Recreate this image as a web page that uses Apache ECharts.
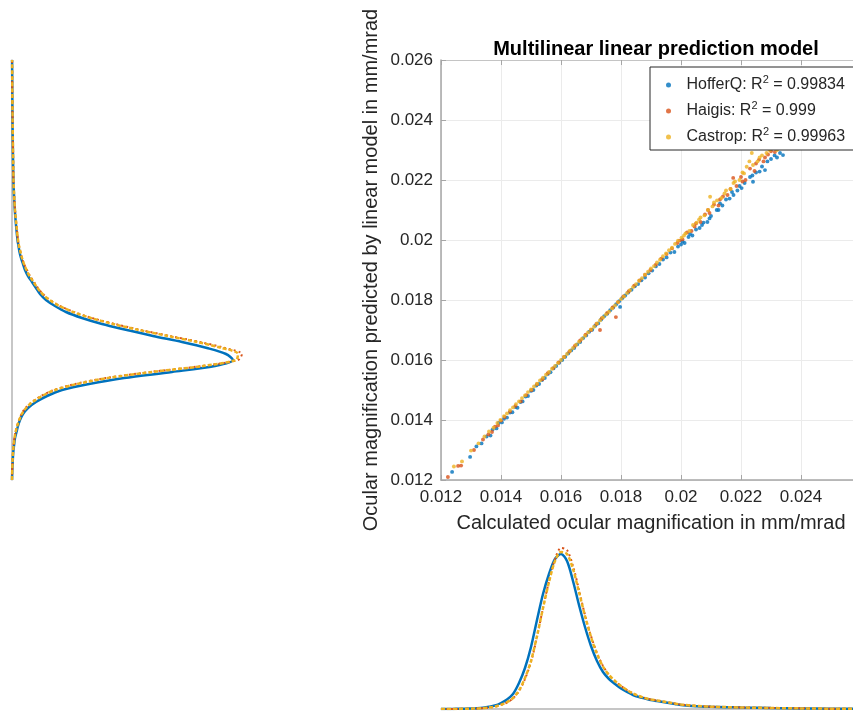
<!DOCTYPE html>
<html>
<head>
<meta charset="utf-8">
<script src="https://cdn.jsdelivr.net/npm/echarts@6.0.0/dist/echarts.min.js"></script>
<style>
  html, body { margin: 0; padding: 0; background: #fff; }
  #chart { width: 853px; height: 711px; }
</style>
</head>
<body>
<div id="chart"></div>
<script>
// model names and fit quality
var models = ['HofferQ', 'Haigis', 'Castrop']
var r2 = ['0.99834', '0.999', '0.99963']
var colors = ['#0072BD', '#D95319', '#EDB120']

// axis ticks (mm/mrad)
var axisMin = 0.012
var axisMax = 0.026
var axisStep = 0.002

// scatter: [calculated, predicted]
var hofferQPts = [
  [0.01237, 0.01227], [0.01297, 0.01277], [0.01318, 0.01312], [0.01335, 0.01322], [0.01352, 0.01345],
  [0.01365, 0.01348], [0.01372, 0.01368], [0.01385, 0.01372], [0.01392, 0.01390], [0.01403, 0.01392],
  [0.01410, 0.01404], [0.01420, 0.01408], [0.01430, 0.01425], [0.01438, 0.01426], [0.01448, 0.01443],
  [0.01455, 0.01441], [0.01465, 0.01460], [0.01472, 0.01462], [0.01482, 0.01478], [0.01490, 0.01480],
  [0.01500, 0.01497], [0.01508, 0.01500], [0.01518, 0.01515], [0.01527, 0.01520], [0.01537, 0.01533],
  [0.01546, 0.01540], [0.01556, 0.01553], [0.01565, 0.01559], [0.01575, 0.01572], [0.01584, 0.01580],
  [0.01594, 0.01591], [0.01604, 0.01600], [0.01614, 0.01611], [0.01624, 0.01622], [0.01634, 0.01632],
  [0.01644, 0.01640], [0.01654, 0.01652], [0.01664, 0.01660], [0.01674, 0.01673], [0.01684, 0.01682],
  [0.01694, 0.01694], [0.01704, 0.01701], [0.01714, 0.01714], [0.01724, 0.01722], [0.01734, 0.01735],
  [0.01744, 0.01746], [0.01754, 0.01754], [0.01764, 0.01766], [0.01774, 0.01775], [0.01784, 0.01786],
  [0.01797, 0.01777], [0.01794, 0.01796], [0.01804, 0.01806], [0.01814, 0.01815], [0.01824, 0.01825],
  [0.01835, 0.01834], [0.01846, 0.01846], [0.01857, 0.01853], [0.01868, 0.01866], [0.01880, 0.01875],
  [0.01892, 0.01889], [0.01904, 0.01898], [0.01916, 0.01912], [0.01928, 0.01920], [0.01940, 0.01935],
  [0.01952, 0.01942], [0.01965, 0.01958], [0.01978, 0.01960], [0.01990, 0.01978], [0.02000, 0.01985],
  [0.02005, 0.01995], [0.02012, 0.01990], [0.02025, 0.02010], [0.02030, 0.02020], [0.02038, 0.02015],
  [0.02050, 0.02035], [0.02062, 0.02040], [0.02070, 0.02050], [0.02075, 0.02058], [0.02088, 0.02060],
  [0.02095, 0.02072], [0.02100, 0.02080], [0.02119, 0.02100], [0.02125, 0.02100], [0.02130, 0.02122],
  [0.02138, 0.02115], [0.02150, 0.02135], [0.02162, 0.02138], [0.02170, 0.02160], [0.02175, 0.02150],
  [0.02188, 0.02165], [0.02195, 0.02180], [0.02202, 0.02173], [0.02212, 0.02190], [0.02230, 0.02210],
  [0.02240, 0.02194], [0.02238, 0.02215], [0.02250, 0.02225], [0.02262, 0.02228], [0.02270, 0.02245],
  [0.02280, 0.02233], [0.02288, 0.02262], [0.02300, 0.02270], [0.02312, 0.02282], [0.02320, 0.02275],
  [0.02330, 0.02290], [0.02340, 0.02283]
]
var haigisPts = [
  [0.01223, 0.01210], [0.01257, 0.01247], [0.01267, 0.01248], [0.01310, 0.01300], [0.01340, 0.01335],
  [0.01358, 0.01352], [0.01370, 0.01360], [0.01380, 0.01378], [0.01390, 0.01382], [0.01400, 0.01398],
  [0.01412, 0.01410], [0.01430, 0.01428], [0.01448, 0.01447], [0.01466, 0.01462], [0.01484, 0.01483],
  [0.01502, 0.01500], [0.01520, 0.01519], [0.01538, 0.01536], [0.01556, 0.01556], [0.01574, 0.01573],
  [0.01592, 0.01592], [0.01610, 0.01610], [0.01628, 0.01628], [0.01646, 0.01647], [0.01664, 0.01665],
  [0.01682, 0.01684], [0.01700, 0.01700], [0.01730, 0.01700], [0.01718, 0.01720], [0.01736, 0.01739],
  [0.01754, 0.01757], [0.01772, 0.01775], [0.01783, 0.01743], [0.01790, 0.01793], [0.01808, 0.01812],
  [0.01826, 0.01829], [0.01844, 0.01848], [0.01862, 0.01865], [0.01880, 0.01884], [0.01898, 0.01900],
  [0.01916, 0.01918], [0.01934, 0.01938], [0.01952, 0.01953], [0.01970, 0.01972], [0.01988, 0.01990],
  [0.01995, 0.01998], [0.02005, 0.02002], [0.02020, 0.02025], [0.02035, 0.02030], [0.02045, 0.02045],
  [0.02050, 0.02055], [0.02065, 0.02060], [0.02080, 0.02085], [0.02090, 0.02100], [0.02095, 0.02090],
  [0.02110, 0.02118], [0.02125, 0.02115], [0.02130, 0.02135], [0.02140, 0.02145], [0.02155, 0.02150],
  [0.02165, 0.02170], [0.02174, 0.02207], [0.02185, 0.02180], [0.02200, 0.02210], [0.02205, 0.02195],
  [0.02215, 0.02200], [0.02230, 0.02238], [0.02245, 0.02230], [0.02250, 0.02255], [0.02260, 0.02268],
  [0.02275, 0.02262], [0.02280, 0.02275], [0.02290, 0.02285], [0.02300, 0.02296], [0.02313, 0.02293]
]
var castropPts = [
  [0.01243, 0.01245], [0.01270, 0.01262], [0.01300, 0.01298], [0.01325, 0.01322], [0.01345, 0.01345],
  [0.01360, 0.01362], [0.01375, 0.01374], [0.01388, 0.01390], [0.01398, 0.01400], [0.01410, 0.01413],
  [0.01420, 0.01422], [0.01430, 0.01433], [0.01440, 0.01442], [0.01450, 0.01453], [0.01460, 0.01462],
  [0.01470, 0.01473], [0.01480, 0.01482], [0.01490, 0.01493], [0.01500, 0.01502], [0.01510, 0.01512],
  [0.01520, 0.01521], [0.01530, 0.01532], [0.01540, 0.01541], [0.01550, 0.01551], [0.01560, 0.01560],
  [0.01570, 0.01571], [0.01580, 0.01580], [0.01590, 0.01590], [0.01600, 0.01600], [0.01610, 0.01610],
  [0.01620, 0.01620], [0.01630, 0.01631], [0.01640, 0.01640], [0.01650, 0.01651], [0.01660, 0.01661],
  [0.01670, 0.01671], [0.01680, 0.01681], [0.01690, 0.01692], [0.01700, 0.01702], [0.01710, 0.01711],
  [0.01720, 0.01722], [0.01730, 0.01732], [0.01740, 0.01742], [0.01750, 0.01752], [0.01760, 0.01761],
  [0.01770, 0.01772], [0.01780, 0.01782], [0.01790, 0.01793], [0.01800, 0.01803], [0.01810, 0.01812],
  [0.01820, 0.01823], [0.01830, 0.01833], [0.01840, 0.01843], [0.01850, 0.01853], [0.01860, 0.01864],
  [0.01870, 0.01873], [0.01880, 0.01884], [0.01890, 0.01894], [0.01900, 0.01905], [0.01910, 0.01913],
  [0.01920, 0.01925], [0.01930, 0.01934], [0.01940, 0.01946], [0.01950, 0.01955], [0.01960, 0.01966],
  [0.01970, 0.01974], [0.01980, 0.01987], [0.01990, 0.01998], [0.02002, 0.02008], [0.02010, 0.02015],
  [0.02015, 0.02022], [0.02028, 0.02030], [0.02040, 0.02050], [0.02052, 0.02058], [0.02060, 0.02068],
  [0.02065, 0.02075], [0.02078, 0.02082], [0.02097, 0.02144], [0.02090, 0.02100], [0.02105, 0.02112],
  [0.02110, 0.02125], [0.02120, 0.02132], [0.02135, 0.02140], [0.02145, 0.02155], [0.02150, 0.02165],
  [0.02165, 0.02170], [0.02175, 0.02190], [0.02180, 0.02195], [0.02195, 0.02200], [0.02205, 0.02225],
  [0.02219, 0.02244], [0.02210, 0.02222], [0.02228, 0.02262], [0.02236, 0.02290], [0.02240, 0.02250],
  [0.02255, 0.02262], [0.02262, 0.02275], [0.02270, 0.02282], [0.02285, 0.02290], [0.02295, 0.02300],
  [0.02300, 0.02305], [0.02310, 0.02310], [0.02320, 0.02300]
]

// density estimates, sampled on this grid (mm/mrad)
var densGrid = [
  0.0120, 0.0122, 0.0124, 0.0126, 0.0128, 0.0130, 0.0132, 0.0134, 0.0136, 0.0138,
  0.0140, 0.0142, 0.0144, 0.0146, 0.0148, 0.0150, 0.0152, 0.0154, 0.0156, 0.0158,
  0.0160, 0.0162, 0.0164, 0.0166, 0.0168, 0.0170, 0.0172, 0.0174, 0.0176, 0.0178,
  0.0180, 0.0182, 0.0184, 0.0186, 0.0188, 0.0190, 0.0192, 0.0194, 0.0196, 0.0198,
  0.0200, 0.0205, 0.0210, 0.0215, 0.0220, 0.0230, 0.0240, 0.0250, 0.0260
]
// predicted values (left margin)
var hofferQPred = [0, 0.2, 0.4, 0.7, 1, 1.5, 2.2, 3, 4.5, 6,
  8, 11, 16, 24, 35, 50, 77, 112, 160, 203,
  221, 214, 195, 170, 141, 115, 90, 70, 54, 43,
  34, 28, 24, 20, 16, 13, 11, 9, 7.5, 6.5,
  5.5, 4, 2.8, 2, 1.4, 0.9, 0.5, 0.3, 0.1]
var haigisPred = [0, 0.1, 0.3, 0.5, 0.8, 1.2, 1.7, 2.4, 3.5, 5,
  7, 9.5, 13.5, 20, 29, 42, 63, 94, 138, 190,
  226, 230, 213, 188, 158, 129, 103, 80, 62, 48,
  38, 31, 26, 22, 18, 15, 12, 10, 8.5, 7,
  6, 4.5, 3, 2.2, 1.5, 1, 0.6, 0.3, 0.1]
var castropPred = [0, 0.1, 0.3, 0.5, 0.8, 1.2, 1.8, 2.5, 3.6, 5.2,
  7.2, 9.8, 14, 20.5, 30, 43, 65, 96, 140, 191,
  224, 226, 210, 185, 156, 127, 101, 79, 61, 47.5,
  37.5, 30.5, 25.5, 21.5, 17.5, 14.5, 12, 10, 8.5, 7,
  6, 4.4, 3, 2.1, 1.5, 1, 0.6, 0.3, 0.1]
// calculated values (bottom margin)
var hofferQCalc = [0, 0, 0.1, 0.2, 0.3, 0.5, 0.8, 1.3, 2.2, 3.5,
  6, 9.5, 15, 26, 41, 62, 89, 115, 135, 150,
  155, 148, 128, 104, 82, 63, 48, 37, 30, 25,
  20.5, 17, 14, 12, 10.5, 9, 8, 7, 6, 5,
  4, 2.8, 2.2, 1.8, 1.5, 1, 0.6, 0.3, 0.1]
var haigisCalc = [0, 0, 0.05, 0.1, 0.2, 0.3, 0.5, 0.8, 1.4, 2.4,
  4, 6.5, 10.5, 18, 30, 47, 72, 101, 128, 150,
  161, 159, 143, 119, 94, 73, 56, 43, 34, 28,
  23, 19, 15.5, 13, 11, 9.5, 8.5, 7.5, 6.5, 5.5,
  4.5, 3.2, 2.4, 1.9, 1.6, 1.1, 0.7, 0.3, 0.1]
var castropCalc = [0, 0, 0.05, 0.1, 0.2, 0.3, 0.5, 0.8, 1.5, 2.5,
  4.2, 6.8, 11, 18.5, 31, 48, 73, 101, 127, 148,
  157, 155, 140, 117, 93, 72, 55, 42.5, 34, 28,
  23, 19, 15.5, 13, 11, 9.5, 8.5, 7.5, 6.5, 5.5,
  4.4, 3.1, 2.3, 1.9, 1.5, 1, 0.6, 0.3, 0.1]

var font = "'Liberation Sans', Arial, sans-serif"
var axisGray = '#a6a6a6'
var textGray = '#262626'

var chart = echarts.init(document.getElementById('chart'), null, { renderer: 'canvas' })

function pairs(dens, isLeft) {
  return densGrid.map(function(v, i) {
    return isLeft ? [dens[i], v] : [v, dens[i]]
  })
}

var lineStyles = [
  { color: colors[0], width: 2.5, type: 'solid' },
  { color: colors[1], width: 2, type: [2, 3] },
  { color: colors[2], width: 2.5, type: [4, 2] }
]
var predSets = [hofferQPred, haigisPred, castropPred]
var calcSets = [hofferQCalc, haigisCalc, castropCalc]
var ptSets = [hofferQPts, haigisPts, castropPts]

var series = []
models.forEach(function(m, i) {
  series.push({
    name: m,
    type: 'scatter',
    xAxisIndex: 0,
    yAxisIndex: 0,
    symbol: 'circle',
    symbolSize: 3.9,
    itemStyle: { color: colors[i] },
    data: ptSets[i]
  })
})
models.forEach(function(m, i) {
  series.push({
    name: m + ' predicted density',
    type: 'line',
    xAxisIndex: 2,
    yAxisIndex: 1,
    showSymbol: false,
    smooth: 0.3,
    lineStyle: lineStyles[i],
    data: pairs(predSets[i], true)
  })
  series.push({
    name: m + ' calculated density',
    type: 'line',
    xAxisIndex: 3,
    yAxisIndex: 2,
    showSymbol: false,
    smooth: 0.3,
    lineStyle: lineStyles[i],
    data: pairs(calcSets[i], false)
  })
})

chart.setOption({
  animation: false,
  backgroundColor: '#fff',
  textStyle: { fontFamily: font },
  title: {
    text: 'Multilinear linear prediction model',
    left: 651,
    top: 34,
    textAlign: 'center',
    textStyle: { fontFamily: font, fontSize: 20, fontWeight: 'bold', color: '#000' }
  },
  legend: {
    data: models,
    orient: 'vertical',
    left: 650,
    top: 67,
    padding: [7, 20, 2, 16],
    itemGap: 4,
    itemWidth: 26,
    itemHeight: 5,
    icon: 'circle',
    backgroundColor: '#fff',
    borderColor: '#262626',
    borderWidth: 1,
    borderRadius: 0,
    formatter: function(name) {
      var i = models.indexOf(name)
      return name + ': R{sup|2} = ' + r2[i]
    },
    textStyle: {
      fontFamily: font,
      fontSize: 16,
      color: textGray,
      lineHeight: 22,
      rich: {
        sup: { fontFamily: font, fontSize: 11, lineHeight: 11, verticalAlign: 'top', color: textGray }
      }
    }
  },
  grid: [
    { left: 441, top: 60, width: 420, height: 420, outerBoundsMode: 'none' },
    { left: 12, top: 60, width: 250, height: 420, outerBoundsMode: 'none' },
    { left: 441, top: 544, width: 420, height: 165, outerBoundsMode: 'none' }
  ],
  xAxis: [
    {
      gridIndex: 0,
      type: 'value',
      min: axisMin,
      max: axisMax,
      interval: axisStep,
      name: 'Calculated ocular magnification in mm/mrad',
      nameLocation: 'middle',
      nameGap: 33,
      nameTextStyle: { fontFamily: font, fontSize: 20, color: textGray },
      axisLine: { show: true, lineStyle: { color: axisGray, width: 1.5 } },
      axisTick: { show: true, inside: true, length: 5, lineStyle: { color: axisGray } },
      axisLabel: { fontFamily: font, fontSize: 17, color: textGray, margin: 9, showMaxLabel: false },
      splitLine: { show: true, lineStyle: { color: '#ebebeb', width: 1 } }
    },
    {
      gridIndex: 0,
      type: 'value',
      position: 'top',
      min: axisMin,
      max: axisMax,
      interval: axisStep,
      axisLine: { show: true, onZero: false, lineStyle: { color: '#c4c4c4', width: 1 } },
      axisTick: { show: true, inside: true, length: 5, lineStyle: { color: axisGray } },
      axisLabel: { show: false },
      splitLine: { show: false }
    },
    {
      gridIndex: 1,
      type: 'value',
      min: 0,
      max: 250,
      show: false
    },
    {
      gridIndex: 2,
      type: 'value',
      min: axisMin,
      max: axisMax,
      axisLine: { show: true, onZero: false, lineStyle: { color: '#b4b4b4', width: 1.5 } },
      axisTick: { show: false },
      axisLabel: { show: false },
      splitLine: { show: false }
    }
  ],
  yAxis: [
    {
      gridIndex: 0,
      type: 'value',
      min: axisMin,
      max: axisMax,
      interval: axisStep,
      name: 'Ocular magnification predicted by linear model in mm/mrad',
      nameLocation: 'middle',
      nameGap: 60,
      nameTextStyle: { fontFamily: font, fontSize: 20, color: textGray },
      axisLine: { show: true, lineStyle: { color: axisGray, width: 1.5 } },
      axisTick: { show: true, inside: true, length: 5, lineStyle: { color: axisGray } },
      axisLabel: { fontFamily: font, fontSize: 17, color: textGray, margin: 8 },
      splitLine: { show: true, lineStyle: { color: '#ebebeb', width: 1 } }
    },
    {
      gridIndex: 1,
      type: 'value',
      min: axisMin,
      max: axisMax,
      axisLine: { show: true, onZero: false, lineStyle: { color: '#b4b4b4', width: 1.5 } },
      axisTick: { show: false },
      axisLabel: { show: false },
      splitLine: { show: false }
    },
    {
      gridIndex: 2,
      type: 'value',
      min: 0,
      max: 165,
      show: false
    }
  ],
  series: series
})
</script>
</body>
</html>
